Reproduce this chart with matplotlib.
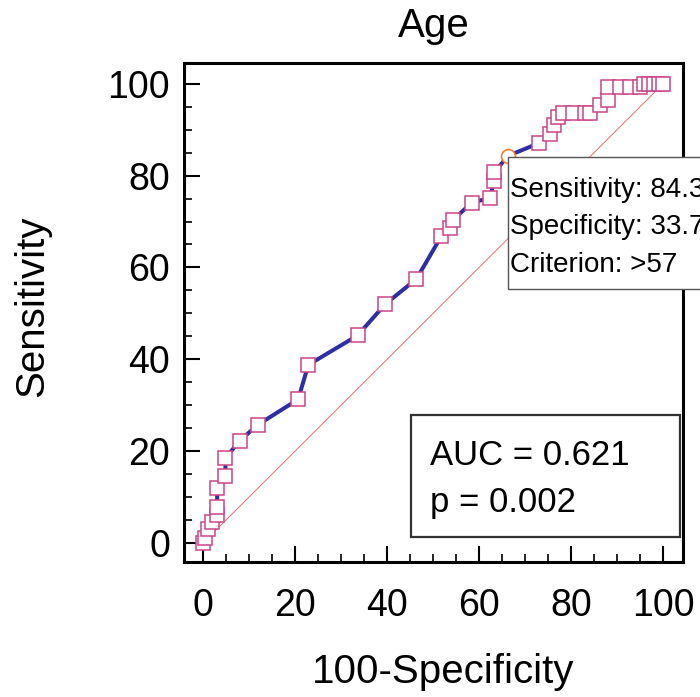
import matplotlib
matplotlib.use('Agg')
import matplotlib.pyplot as plt
from matplotlib.patches import Rectangle
from matplotlib.ticker import MultipleLocator

plt.rcParams['font.family'] = ['Liberation Sans', 'DejaVu Sans']

# -----------------------------
# ROC points
# -----------------------------
fpr = [0, 0.5, 1.2, 2.0, 3.1, 3.1, 3.1, 4.9, 4.9, 8.0, 12.0, 20.7, 22.9,
       33.6, 39.6, 46.4, 51.8, 53.6, 54.4, 58.4, 62.3, 63.3, 63.3, 66.3,
       73.1, 75.3, 76.2, 77.2, 78.2, 80.5, 83.0, 84.1, 86.2, 88.1, 88.1,
       90.7, 92.8, 94.9, 95.9, 97.0, 98.0, 99.0, 100]
tpr = [0, 1.2, 3.0, 4.6, 6.1, 7.9, 12.1, 14.7, 18.5, 22.3, 25.8, 31.3, 38.8,
       45.2, 52.0, 57.5, 66.8, 68.6, 70.4, 74.1, 75.1, 78.8, 80.7, 84.3,
       87.1, 89.1, 91.0, 92.7, 93.6, 93.6, 93.6, 93.6, 95.4, 96.4, 99.2,
       99.2, 99.2, 99.2, 100, 100, 100, 100, 100]
crit_x, crit_y = 66.3, 84.3
auc_lines = ['AUC = 0.621', 'p = 0.002']
crit_lines = ['Sensitivity: 84.3', 'Specificity: 33.7', 'Criterion: >57']
ticks = [0, 20, 40, 60, 80, 100]

W, H = 700, 697
fig = plt.figure(figsize=(W / 100, H / 100), dpi=100)
ax = fig.add_axes([184 / W, 1 - 562 / H, 499 / W, 499 / H])

ax.plot([0, 100], [0, 100], color='#e87070', lw=0.7, zorder=1)
ax.plot(fpr, tpr, color='#2e2ea8', lw=2.9, zorder=2)
mask = [not (x == crit_x and y == crit_y) for x, y in zip(fpr, tpr)]
ax.plot([x for x, m in zip(fpr, mask) if m], [y for y, m in zip(tpr, mask) if m],
        ls='none', marker='s', ms=9.8, mfc='white', mec='#cc4488', mew=1.1, zorder=3)
ax.plot([crit_x], [crit_y], ls='none', marker='o', ms=10, mfc='white',
        mec='#f08030', mew=1.2, zorder=4)

ax.set_xlim(-4.1, 104.3)
ax.set_ylim(-4.1, 104.5)
ax.set_xticks(ticks)
ax.set_yticks(ticks)
ax.xaxis.set_minor_locator(MultipleLocator(5))
ax.yaxis.set_minor_locator(MultipleLocator(5))
ax.tick_params(which='major', direction='in', length=11.5, width=1.5,
               labelsize=27, pad=10)
ax.tick_params(axis='x', which='major', pad=19)
ax.tick_params(which='minor', direction='in', length=6, width=1.2)
ax.tick_params(top=False, right=False, which='both')
for s in ax.spines.values():
    s.set_linewidth(2.2)

# AUC box
ax.add_patch(Rectangle((0.455, 0.050), 0.539, 0.245, transform=ax.transAxes,
                       fill=False, ec='#333333', lw=1.6, zorder=5))
ax.text(0.493, 0.194, auc_lines[0], transform=ax.transAxes, fontsize=25,
        va='baseline', ha='left', zorder=6)
ax.text(0.493, 0.100, auc_lines[1], transform=ax.transAxes, fontsize=25,
        va='baseline', ha='left', zorder=6)

# criterion box (runs off the right edge, as in the source)
ax.add_patch(Rectangle((0.649, 0.547), 0.6, 0.265, transform=ax.transAxes,
                       fc='white', ec='#555555', lw=1.0, zorder=5, clip_on=False))
for i, line in enumerate(crit_lines):
    fig.text(510 / W, 1 - (197 + 37.5 * i) / H, line, fontsize=20,
             va='baseline', ha='left', zorder=6)

fig.text(434 / W, 1 - 37 / H, 'Age', fontsize=29, ha='center', va='baseline')
fig.text(443 / W, 1 - 683 / H, '100-Specificity', fontsize=29, ha='center', va='baseline')
fig.text(32 / W, 1 - 306 / H, 'Sensitivity', fontsize=29, rotation=90,
         ha='center', va='center')

fig.savefig('out.png', dpi=100)
plt.close()
